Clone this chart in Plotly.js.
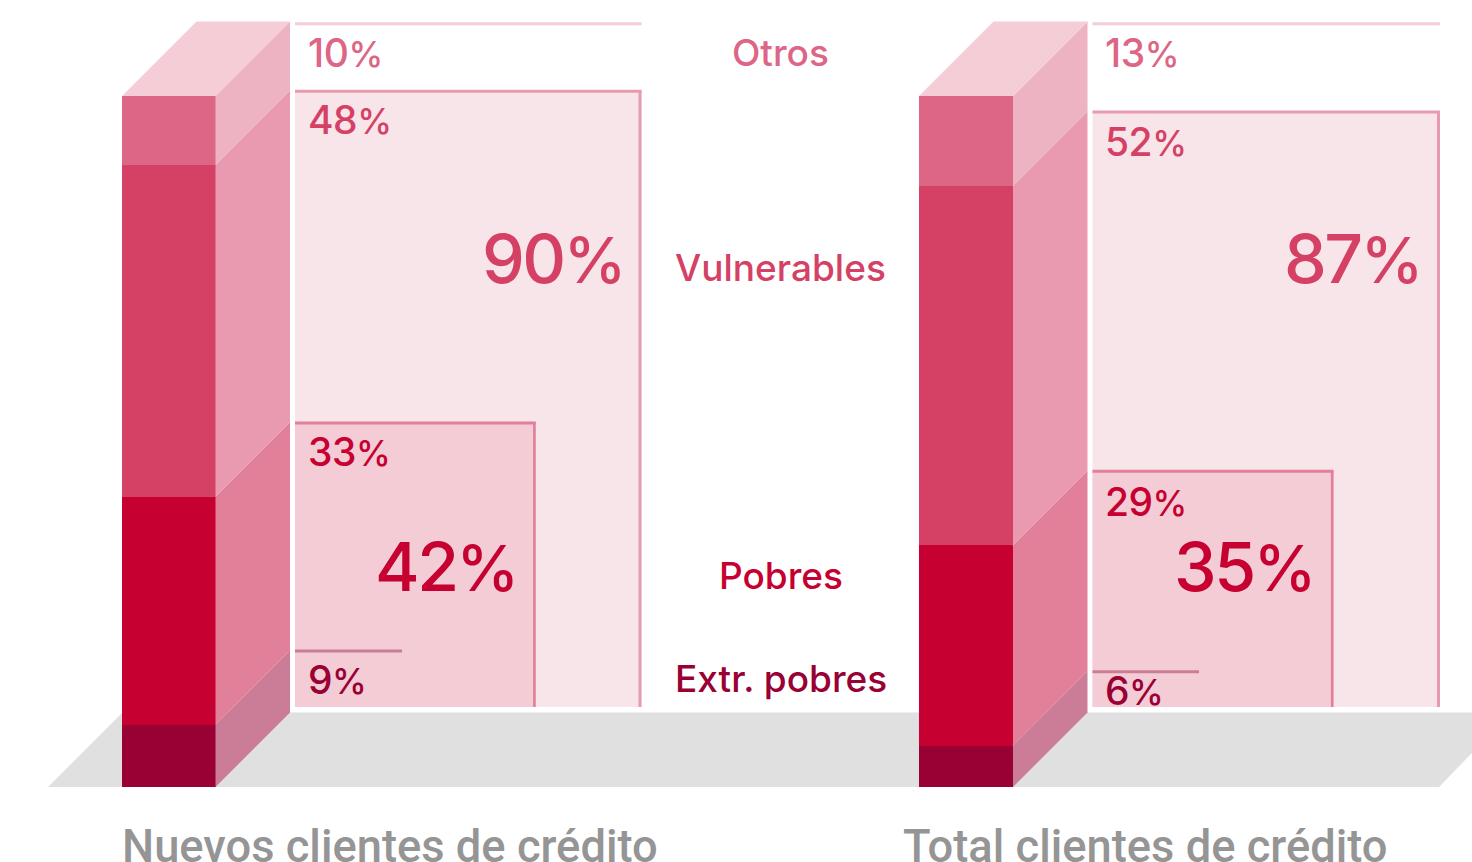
<!DOCTYPE html>
<html>
<head>
<meta charset="utf-8">
<script src="https://cdn.plot.ly/plotly-3.0.1.min.js"></script>
<style>html,body{margin:0;padding:0;background:#fff;overflow:hidden}#chart{width:1472px;height:862px}</style>
</head>
<body>
<div id="chart"></div>
<script>
// ---- data ----
const categories = ['Extr. pobres', 'Pobres', 'Vulnerables', 'Otros'];
const nuevos = [9, 33, 48, 10];
const totales = [6, 29, 52, 13];
const groupNames = ['Nuevos clientes de crédito', 'Total clientes de crédito'];
const frontColors = ['#990033', '#c60030', '#d54165', '#dd6686'];
const sideColors = ['#cb7c97', '#e27f99', '#e99ab0', '#eeb3c2'];
const topColor = '#f4cdd7';
const textColors = ['#990033', '#c60030', '#d54165', '#dd6686'];
const labelColor = '#959595';

// ---- geometry of the drawing ----
const W = 1472, H = 862;
const Y0 = 787, SCALE = 6.91;                // pixel of 0 %, pixels per 1 %
const DEPTH = 74.5, DY = DEPTH / SCALE;      // oblique depth
const py = p => (Y0 - p) / SCALE;            // pixel row -> axis value
const FONT = 'Inter, "Open Sans", sans-serif';

const bars = [
  {left: 122, right: 215.5, panel: 295, outer: 641.5, mid: 535.7, low: 402, values: nuevos},
  {left: 919, right: 1013, panel: 1092.5, outer: 1440, mid: 1333.5, low: 1199, values: totales}
];

const traces = [];
// front faces : one stacked bar trace per category
categories.forEach((c, i) => {
  traces.push({
    type: 'bar', name: c,
    x: bars.map(b => (b.left + b.right) / 2),
    y: bars.map(b => b.values[i]),
    width: bars.map(b => b.right - b.left),
    marker: {color: frontColors[i], line: {width: 0}},
    hoverinfo: 'skip', showlegend: false
  });
});
// side & top faces
bars.forEach(b => {
  let base = 0;
  b.values.forEach((v, i) => {
    const t = base + v;
    traces.push({
      type: 'scatter', mode: 'lines', fill: 'toself', fillcolor: sideColors[i],
      x: [b.right, b.right + DEPTH, b.right + DEPTH, b.right, b.right],
      y: [base, base + DY, t + DY, t, base],
      line: {width: 0}, hoverinfo: 'skip', showlegend: false
    });
    base = t;
  });
  traces.push({
    type: 'scatter', mode: 'lines', fill: 'toself', fillcolor: topColor,
    x: [b.left, b.left + DEPTH, b.right + DEPTH, b.right, b.left],
    y: [base, base + DY, base + DY, base, base],
    line: {width: 0}, hoverinfo: 'skip', showlegend: false
  });
});

// floor, panels, rules
const shapes = [];
const poly = pts => 'M' + pts.map(p => p.join(',')).join('L') + 'Z';
shapes.push({type: 'path', layer: 'below', xref: 'x', yref: 'y', line: {width: 0}, fillcolor: '#e0e0e0',
  path: poly([[48, 0], [48 + DEPTH, DY], [W, DY], [W, py(753)], [W - 33, 0]])});
const rect = (x0, x1, y0, y1, col) => shapes.push({type: 'rect', layer: 'below', xref: 'x', yref: 'y',
  x0, x1, y0, y1, fillcolor: col, line: {width: 0}});
const panelBottom = py(707);
bars.forEach(b => {
  const [a, c, d] = b.values;
  const s1 = a, s2 = a + c, s3 = a + c + d;
  const T = 3 / SCALE;
  // big panel
  rect(b.panel, b.outer, panelBottom, s3 + DY, '#f8e5ea');
  rect(b.panel, b.outer, s3 + DY - T + 0.13, s3 + DY + 0.13, '#e99ab0');
  rect(b.outer - 3, b.outer, panelBottom, s3 + DY, '#e99ab0');
  // mid panel
  rect(b.panel, b.mid, panelBottom, s2 + DY, '#f4ccd6');
  rect(b.panel, b.mid, s2 + DY - T + 0.13, s2 + DY + 0.13, '#e27f99');
  rect(b.mid - 2.6, b.mid, panelBottom, s2 + DY, '#e27f99');
  // low rule
  rect(b.panel, b.low, s1 + DY - T + 0.13, s1 + DY + 0.13, '#cb7c97');
  // top rule
  rect(b.panel, b.outer, 100 + DY - T - 0.1, 100 + DY - 0.1, topColor);
});

// texts
const ann = [];
const small = (x, ypx, v, col) => ann.push({x, y: py(ypx),
  text: '<span style="letter-spacing:-0.5px">' + v + '</span><span style="font-size:35px">%</span>',
  xanchor: 'left', yanchor: 'middle',
  showarrow: false, font: {family: FONT, size: 39, weight: 500, color: col}});
const big = (xr, ypx, v, col) => ann.push({x: xr, y: py(ypx),
  text: '<span style="letter-spacing:-2.5px">' + v + '</span><span style="font-size:63px">%</span>',
  xanchor: 'right', yanchor: 'middle',
  showarrow: false, font: {family: FONT, size: 68, weight: 500, color: col}});
const cat = (ypx, i) => ann.push({x: 780.5, y: py(ypx), text: categories[i], xanchor: 'center', yanchor: 'middle',
  showarrow: false, font: {family: FONT, size: 37, weight: 500, color: textColors[i]}});

small(306, 52, nuevos[3], textColors[3]);
small(306, 119, nuevos[2], textColors[2]);
small(306, 451, nuevos[1], textColors[1]);
small(306, 679, nuevos[0], textColors[0]);
big(627.5, 257.5, nuevos[0] + nuevos[1] + nuevos[2], textColors[2]);
big(520.5, 566, nuevos[0] + nuevos[1], textColors[1]);

small(1103, 52, totales[3], textColors[3]);
small(1103, 141, totales[2], textColors[2]);
small(1103, 501, totales[1], textColors[1]);
small(1103, 690, totales[0], textColors[0]);
big(1424.5, 257.5, totales[0] + totales[1] + totales[2], textColors[2]);
big(1318, 565.5, totales[0] + totales[1], textColors[1]);

cat(52, 3); cat(267, 2); cat(575, 1); cat(678, 0);

[[390, groupNames[0]], [1145, groupNames[1]]].forEach(([x, t]) => ann.push({x, y: py(846), text: t,
  xanchor: 'center', yanchor: 'middle', showarrow: false,
  font: {family: 'Roboto, sans-serif', size: 45.3, weight: 500, color: labelColor}}));

const layout = {
  width: W, height: H, margin: {l: 0, r: 0, t: 0, b: 0},
  paper_bgcolor: '#fff', plot_bgcolor: '#fff', barmode: 'stack', showlegend: false,
  xaxis: {range: [0, W], visible: false, fixedrange: true},
  yaxis: {range: [py(H), py(0)], visible: false, fixedrange: true},
  shapes, annotations: ann
};
Plotly.newPlot('chart', traces, layout, {staticPlot: true, displayModeBar: false});
</script>
</body>
</html>
